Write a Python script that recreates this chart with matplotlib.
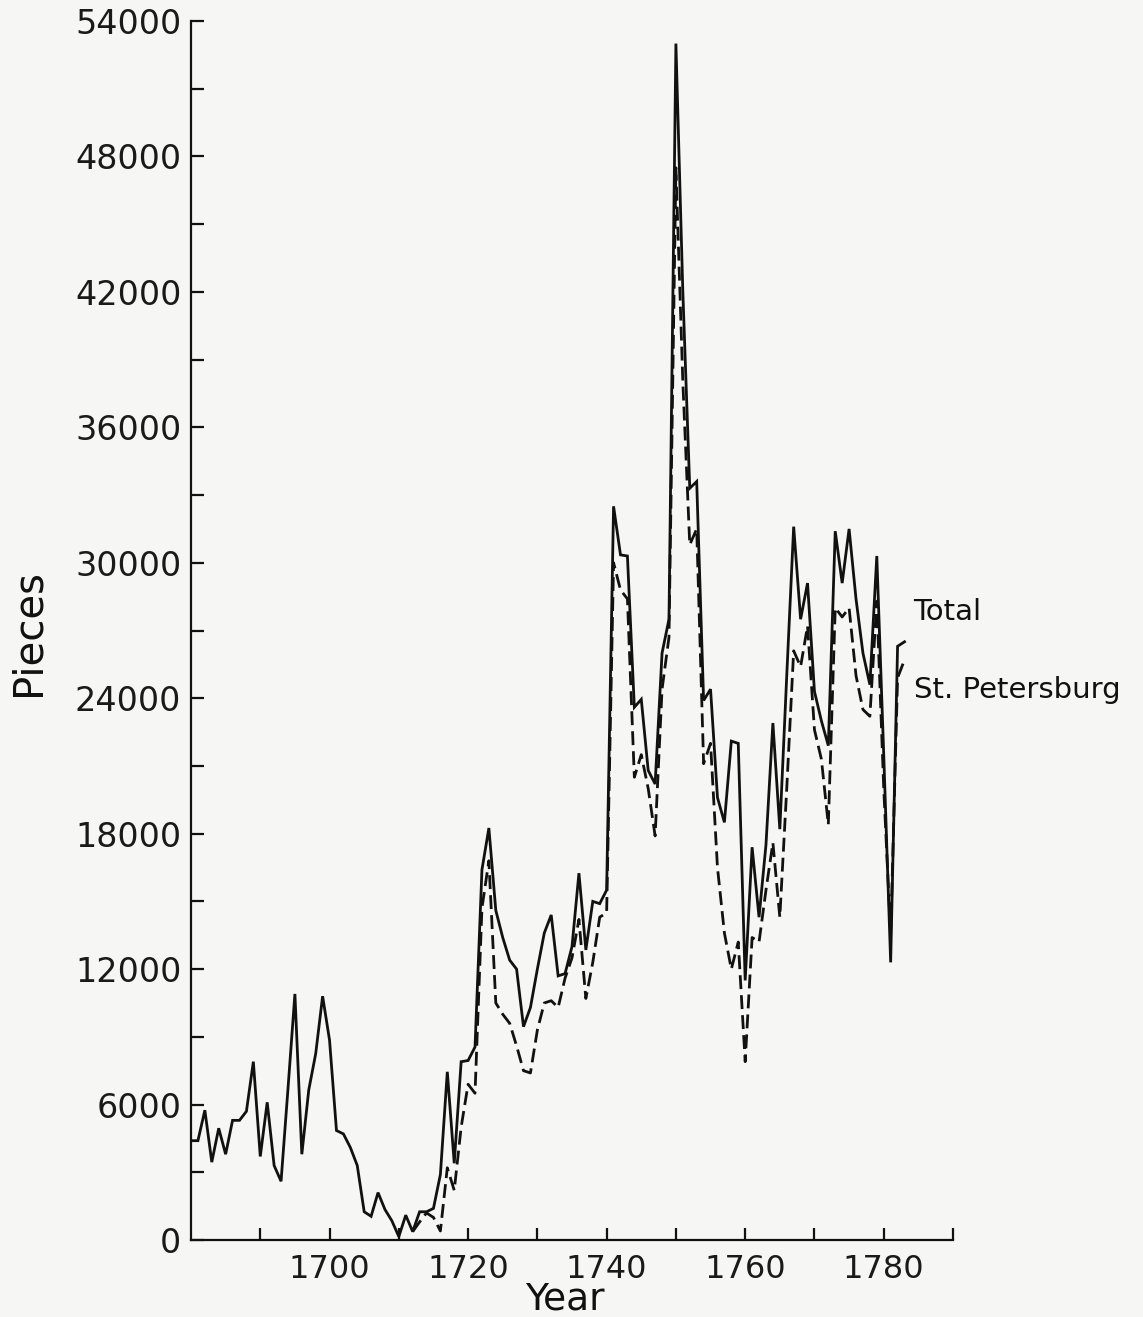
import matplotlib.pyplot as plt
import numpy as np
from matplotlib.ticker import MultipleLocator

# Annual output in pieces
years = np.arange(1680, 1784)
total = [
    4400, 4400, 5750, 3450, 4950, 3800, 5300, 5300, 5700, 7900,   # 1680-1689
    3700, 6100, 3300, 2600, 6700, 10900, 3800, 6650, 8250, 10800,  # 1690-1699
    8850, 4850, 4700, 4100, 3300, 1250, 1050, 2100, 1350, 850,     # 1700-1709
    150, 1100, 370, 1250, 1250, 1400, 2900, 7450, 3400, 7900,      # 1710-1719
    7950, 8550, 16400, 18250, 14600, 13400, 12400, 12000, 9450, 10300,  # 1720-1729
    12000, 13600, 14400, 11700, 11800, 13000, 16250, 12850, 15000, 14900,  # 1730-1739
    15500, 32500, 30350, 30300, 23600, 23950, 20800, 20200, 26000, 27500,  # 1740-1749
    53000, 42000, 33300, 33600, 23900, 24400, 19600, 18500, 22100, 22000,  # 1750-1759
    11500, 17400, 14300, 17500, 22900, 18200, 25000, 31600, 27500, 29100,  # 1760-1769
    24300, 23000, 21900, 31400, 29100, 31500, 28400, 26000, 24600, 30300,  # 1770-1779
    21500, 12300, 26300, 26500,                                     # 1780-1783
]

spb_years = np.arange(1712, 1784)
st_petersburg = [
    370, 800, 1200, 1000, 400, 3200, 2200, 5000,                    # 1712-1719
    6900, 6500, 14700, 16800, 10500, 10000, 9600, 8600, 7500, 7400,  # 1720-1729
    9300, 10500, 10600, 10300, 11600, 12500, 14200, 10700, 12300, 14300,  # 1730-1739
    14500, 30000, 28800, 28400, 20500, 21500, 20000, 17900, 24400, 26700,  # 1740-1749
    47500, 38000, 30800, 31500, 21100, 22000, 16500, 13600, 12000, 13200,  # 1750-1759
    7900, 13400, 13200, 15500, 17600, 14300, 20000, 26100, 25400, 27200,   # 1760-1769
    22600, 21300, 18400, 28000, 27600, 28000, 25000, 23500, 23200, 28300,  # 1770-1779
    20000, 13500, 24900, 25700,                                     # 1780-1783
]

bg = '#f6f6f4'
ink = '#111111'

fig = plt.figure(figsize=(11.43, 13.17), dpi=100, facecolor=bg)
ax = fig.add_axes([191 / 1143, 1 - 1240 / 1317, (953 - 191) / 1143, (1240 - 21) / 1317])
ax.set_facecolor(bg)

ax.plot(years, total, color=ink, linewidth=2.0, solid_joinstyle='miter')
ax.plot(spb_years, st_petersburg, color=ink, linewidth=2.0,
        linestyle=(0, (5, 2.2)))

ax.set_xlim(1680, 1790)
ax.set_ylim(0, 54000)

for side in ('top', 'right'):
    ax.spines[side].set_visible(False)
for side in ('left', 'bottom'):
    ax.spines[side].set_linewidth(1.6)
    ax.spines[side].set_color(ink)

ax.xaxis.set_major_locator(plt.FixedLocator(range(1700, 1781, 20)))
ax.xaxis.set_minor_locator(plt.FixedLocator(range(1690, 1791, 20)))
ax.yaxis.set_major_locator(MultipleLocator(6000))
ax.yaxis.set_minor_locator(MultipleLocator(3000))

ax.tick_params(which='both', direction='in', length=9, width=1.6, color=ink)
ax.tick_params(axis='x', pad=10, labelsize=23)
ax.tick_params(axis='y', pad=7, labelsize=24)
for lab in ax.get_xticklabels() + ax.get_yticklabels():
    lab.set_color('#1a1a1a')

fig.text(28 / 1143, 1 - 632 / 1317, 'Pieces', rotation=90, ha='center', va='center',
         fontsize=29, color=ink)
fig.text(565 / 1143, 1 - 1300 / 1317, 'Year', ha='center', va='center',
         fontsize=27, color=ink)

ax.text(1784.3, 27830, 'Total', ha='left', va='center', fontsize=21, color=ink,
        clip_on=False)
ax.text(1784.3, 24370, 'St. Petersburg', ha='left', va='center', fontsize=21,
        color=ink, clip_on=False)

fig.savefig('out.png', dpi=100, facecolor=bg)
